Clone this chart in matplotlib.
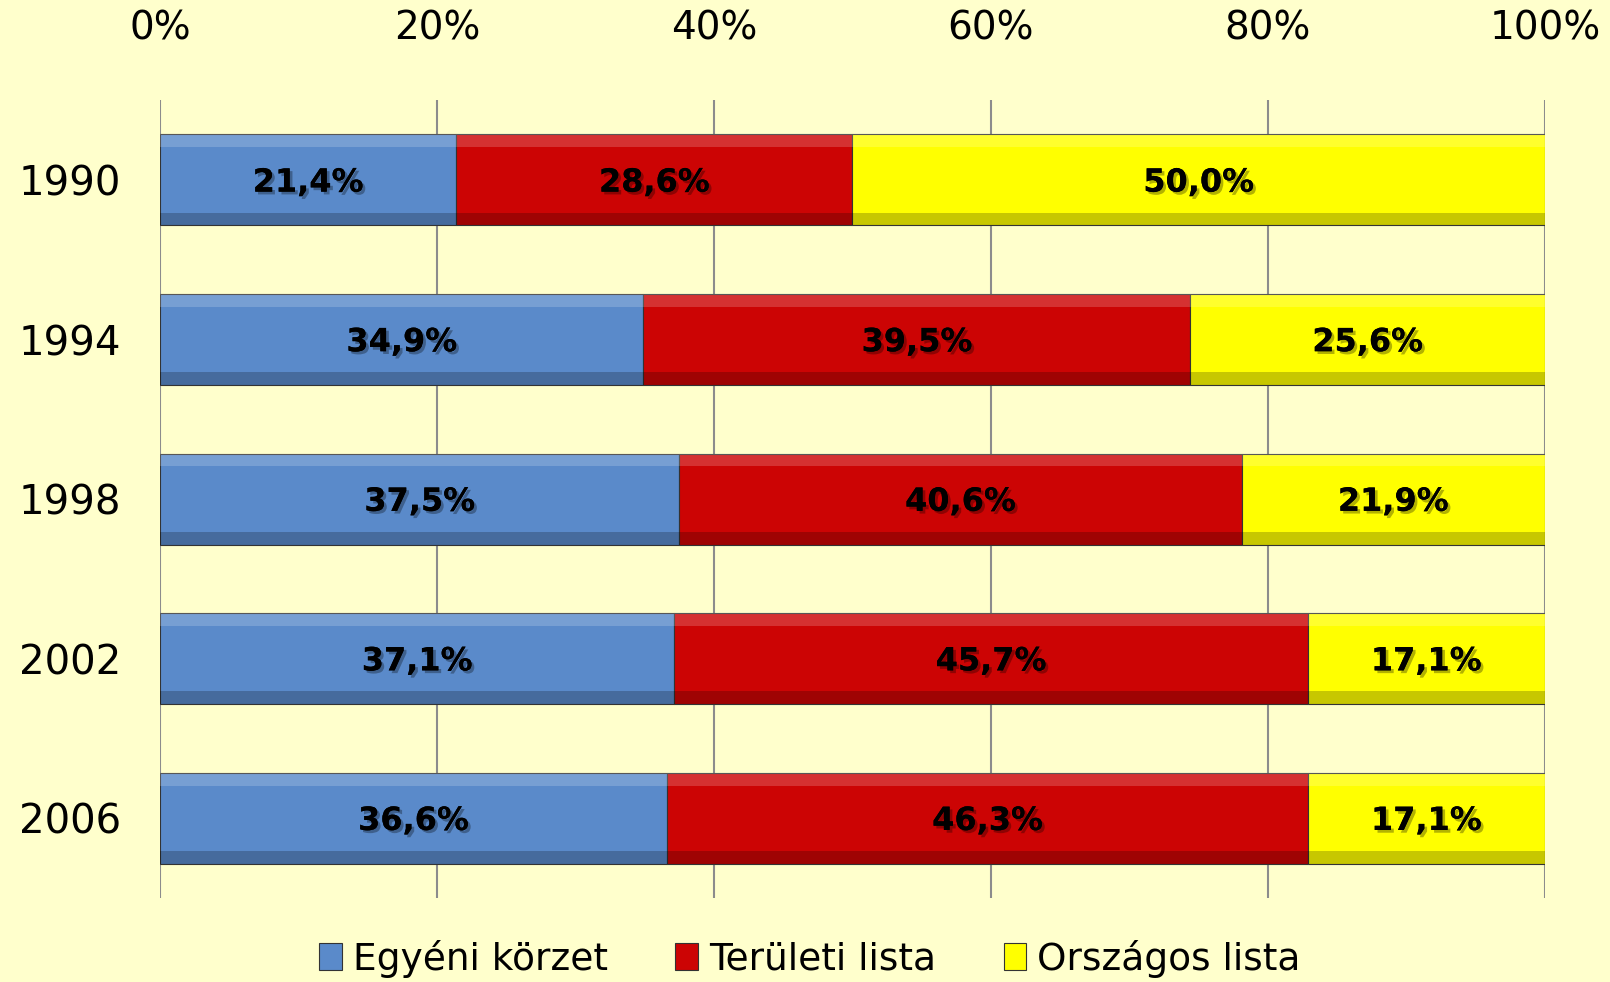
import matplotlib.pyplot as plt
import matplotlib.patheffects as pe
import numpy as np

years = ["1990", "1994", "1998", "2002", "2006"]
series_names = ["Egyéni körzet", "Területi lista", "Országos lista"]
egyeni = [21.4, 34.9, 37.5, 37.1, 36.6]
teruleti = [28.6, 39.5, 40.6, 45.7, 46.3]
orszagos = [50.0, 25.6, 21.9, 17.1, 17.1]
colors = ["#5A8ACA", "#CC0404", "#FFFF00"]
x_ticks = [0, 20, 40, 60, 80, 100]

bg = "#FFFFCC"
plt.rcParams['font.family'] = ['DejaVu Sans']

fig = plt.figure(figsize=(16.1, 9.82), dpi=100, facecolor=bg)
ax = fig.add_axes([0.0994, 0.0855, 0.8602, 0.8125])
ax.set_facecolor(bg)

data = np.array([egyeni, teruleti, orszagos])
shares = data / data.sum(axis=0) * 100
y = np.arange(len(years))
height = 0.57

left = np.zeros(len(years))
for i, name in enumerate(series_names):
    ax.barh(y, shares[i], left=left, height=height, color=colors[i],
            edgecolor='#333333', linewidth=0.8, label=name, zorder=3)
    # bevel highlight and shade
    ax.barh(y - height / 2 + 0.04, shares[i], left=left, height=0.08, color='white',
            alpha=0.18, linewidth=0, zorder=4)
    ax.barh(y + height / 2 - 0.04, shares[i], left=left, height=0.08, color='black',
            alpha=0.22, linewidth=0, zorder=4)
    for yy, l, w, v in zip(y, left, shares[i], data[i]):
        ax.text(l + w / 2, yy + 0.02, f"{v:.1f}%".replace('.', ','), ha='center', va='center',
                fontsize=23, fontweight='bold', color='black', zorder=6,
                path_effects=[pe.withSimplePatchShadow(offset=(2, -2), shadow_rgbFace='#000000', alpha=0.3),
                              pe.Normal()])
    left = left + shares[i]

ax.set_xlim(0, 100)
ax.set_ylim(len(years) - 0.5, -0.5)
ax.set_xticks(x_ticks)
ax.set_xticklabels([f"{t}%" for t in x_ticks], fontsize=28)
ax.xaxis.tick_top()
ax.set_yticks(y)
ax.set_yticklabels(years, fontsize=29)
ax.tick_params(axis='both', length=0)
ax.tick_params(axis='x', pad=38)
ax.tick_params(axis='y', pad=28)
ax.grid(axis='x', color='#8C8C8C', linewidth=1.5, zorder=0)
for s in ax.spines.values():
    s.set_visible(False)

leg = fig.legend(loc='lower center', bbox_to_anchor=(0.503, -0.03), ncol=3, frameon=False,
                 fontsize=27, handlelength=0.6, handleheight=0.7, handletextpad=0.3,
                 columnspacing=1.8)

fig.savefig("out.png", dpi=100, facecolor=bg)
